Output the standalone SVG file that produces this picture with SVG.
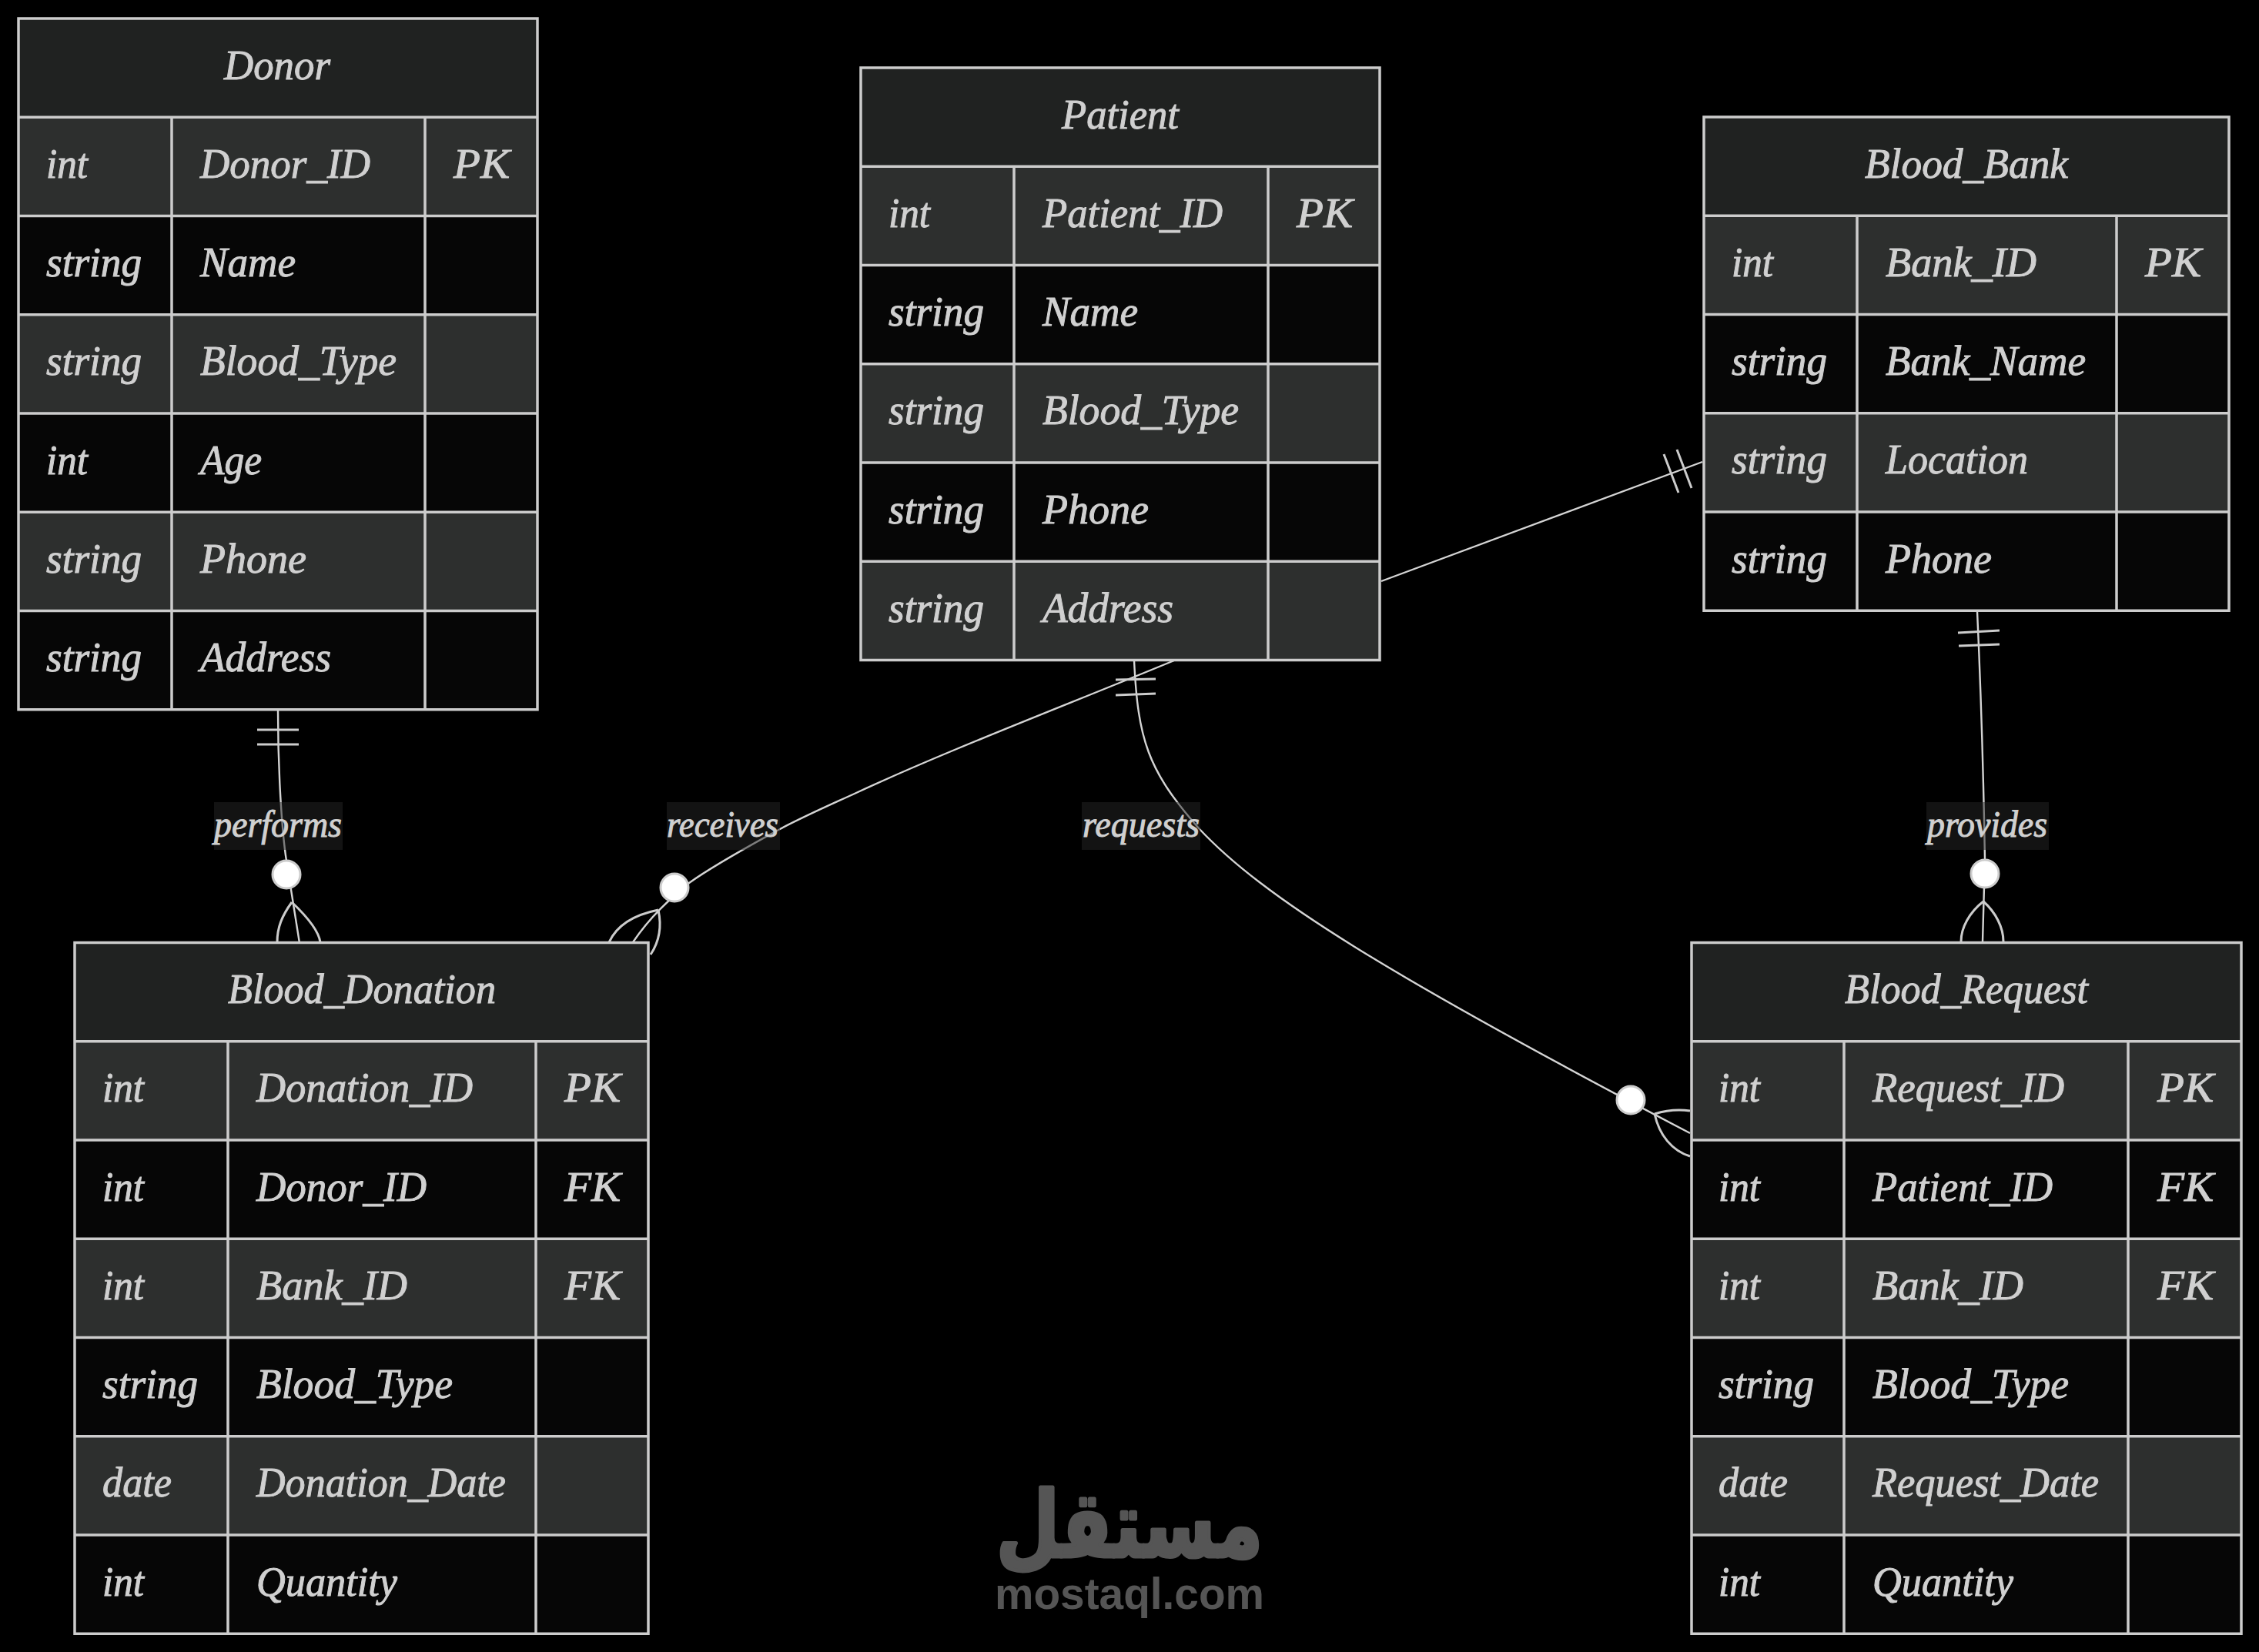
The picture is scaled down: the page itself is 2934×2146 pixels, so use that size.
<svg xmlns="http://www.w3.org/2000/svg" width="2934" height="2146" viewBox="0 0 2934 2146">
<style>
.bg{fill:#000}
.h{fill:#202221}.o{fill:#2d2f2e}.e{fill:#060606}
.g{fill:none;stroke:#ccc;stroke-width:3.5}
.t{font-family:"Liberation Serif",serif;font-style:italic;font-size:54px;fill:#d0d0d0;stroke:#d0d0d0;stroke-width:1}
.c{stroke:#d4d4d4;stroke-width:2.4;fill:none}
.k{stroke:#ccc;stroke-width:3;fill:none}
.d{fill:#fff;stroke:#ccc;stroke-width:3}
.lb{fill:#262626;fill-opacity:.5}
.l{font-size:48px}
.m{fill:#555;stroke:#555}
</style>
<rect class="bg" x="0" y="0" width="2934" height="2146"/>
<g id="watermark">
<text class="m" x="1294" y="2022" font-family="'DejaVu Sans',sans-serif" font-weight="700" font-size="118" stroke-width="5" stroke-linejoin="round" textLength="346" lengthAdjust="spacingAndGlyphs">مستقل</text>
<text class="m" x="1292" y="2090" font-family="'Liberation Sans',sans-serif" font-weight="700" font-size="58" stroke-width="0" textLength="350" lengthAdjust="spacingAndGlyphs">mostaql.com</text>
</g>
<g id="connectors">
<path class="c" d="M361,923 C361,1000 366,1080 372,1118 L389,1225"/>
<path class="k" d="M334,948H388M334,967H388"/>
<path class="k" d="M379,1172C366,1190 360,1205 360,1224M379,1172C398,1190 414,1210 416,1224"/>
<path class="c" d="M1525,858C1380,918 1230,975 1112,1030C1075,1047 1045,1060 1013,1077C975,1098 930,1122 895,1147C870,1168 845,1190 822,1224"/>
<path class="k" d="M855,1182C825,1188 802,1200 791,1224M855,1182C860,1205 855,1225 845,1240"/>
<path class="c" d="M1473,858C1478,960 1490,1000 1557,1076C1640,1165 1800,1265 2195,1472"/>
<path class="k" d="M1449,883L1501,882M1449,903L1501,901"/>
<path class="k" d="M2149,1447C2165,1442 2180,1441 2195,1443M2149,1447C2155,1475 2172,1495 2195,1502"/>
<path class="c" d="M1794,755L2211,600"/>
<path class="k" d="M2161,590L2180,640M2178,584L2197,634"/>
<path class="c" d="M2568,794C2572,880 2576,1000 2578,1116L2575,1223"/>
<path class="k" d="M2543,822L2597,819M2544,839L2597,837"/>
<path class="k" d="M2576,1171C2558,1185 2547,1205 2547,1223M2576,1171C2592,1185 2602,1205 2602,1223"/>
<circle class="d" cx="372" cy="1136" r="18"/>
<circle class="d" cx="876" cy="1153" r="18"/>
<circle class="d" cx="2118" cy="1429" r="18"/>
<circle class="d" cx="2578" cy="1135" r="18"/>
<rect class="lb" x="278" y="1042" width="167" height="62"/>
<rect class="lb" x="866" y="1042" width="147" height="62"/>
<rect class="lb" x="1405" y="1042" width="154" height="62"/>
<rect class="lb" x="2502" y="1042" width="159" height="62"/>
<text class="t l" x="278" y="1087" textLength="166" lengthAdjust="spacingAndGlyphs">performs</text>
<text class="t l" x="866" y="1087" textLength="145" lengthAdjust="spacingAndGlyphs">receives</text>
<text class="t l" x="1406" y="1087" textLength="152" lengthAdjust="spacingAndGlyphs">requests</text>
<text class="t l" x="2503" y="1087" textLength="156" lengthAdjust="spacingAndGlyphs">provides</text>
</g>
<g id="Donor">
<rect class="h" x="24" y="24" width="674" height="128.25"/>
<rect class="o" x="24" y="152.25" width="674" height="128.25"/>
<rect class="e" x="24" y="280.5" width="674" height="128.25"/>
<rect class="o" x="24" y="408.75" width="674" height="128.25"/>
<rect class="e" x="24" y="537" width="674" height="128.25"/>
<rect class="o" x="24" y="665.25" width="674" height="128.25"/>
<rect class="e" x="24" y="793.5" width="674" height="128.25"/>
<path class="g" d="M24,24H698V921.75H24ZM24,152.25H698M24,280.5H698M24,408.75H698M24,537H698M24,665.25H698M24,793.5H698M223,152.25V921.75M552,152.25V921.75"/>
<text class="t" x="291" y="102.5" textLength="138" lengthAdjust="spacingAndGlyphs">Donor</text>
<text class="t" x="60" y="230.75" textLength="54" lengthAdjust="spacingAndGlyphs">int</text>
<text class="t" x="260" y="230.75" textLength="221" lengthAdjust="spacingAndGlyphs">Donor_ID</text>
<text class="t" x="589" y="230.75" textLength="73" lengthAdjust="spacingAndGlyphs">PK</text>
<text class="t" x="60" y="359" textLength="124" lengthAdjust="spacingAndGlyphs">string</text>
<text class="t" x="260" y="359" textLength="124" lengthAdjust="spacingAndGlyphs">Name</text>
<text class="t" x="60" y="487.25" textLength="124" lengthAdjust="spacingAndGlyphs">string</text>
<text class="t" x="260" y="487.25" textLength="255" lengthAdjust="spacingAndGlyphs">Blood_Type</text>
<text class="t" x="60" y="615.5" textLength="54" lengthAdjust="spacingAndGlyphs">int</text>
<text class="t" x="260" y="615.5" textLength="80" lengthAdjust="spacingAndGlyphs">Age</text>
<text class="t" x="60" y="743.75" textLength="124" lengthAdjust="spacingAndGlyphs">string</text>
<text class="t" x="260" y="743.75" textLength="138" lengthAdjust="spacingAndGlyphs">Phone</text>
<text class="t" x="60" y="872" textLength="124" lengthAdjust="spacingAndGlyphs">string</text>
<text class="t" x="260" y="872" textLength="170" lengthAdjust="spacingAndGlyphs">Address</text>
</g>
<g id="Patient">
<rect class="h" x="1118" y="88" width="674" height="128.25"/>
<rect class="o" x="1118" y="216.25" width="674" height="128.25"/>
<rect class="e" x="1118" y="344.5" width="674" height="128.25"/>
<rect class="o" x="1118" y="472.75" width="674" height="128.25"/>
<rect class="e" x="1118" y="601" width="674" height="128.25"/>
<rect class="o" x="1118" y="729.25" width="674" height="128.25"/>
<path class="g" d="M1118,88H1792V857.5H1118ZM1118,216.25H1792M1118,344.5H1792M1118,472.75H1792M1118,601H1792M1118,729.25H1792M1317,216.25V857.5M1647,216.25V857.5"/>
<text class="t" x="1379" y="166.5" textLength="152" lengthAdjust="spacingAndGlyphs">Patient</text>
<text class="t" x="1154" y="294.75" textLength="54" lengthAdjust="spacingAndGlyphs">int</text>
<text class="t" x="1354" y="294.75" textLength="234" lengthAdjust="spacingAndGlyphs">Patient_ID</text>
<text class="t" x="1684" y="294.75" textLength="73" lengthAdjust="spacingAndGlyphs">PK</text>
<text class="t" x="1154" y="423" textLength="124" lengthAdjust="spacingAndGlyphs">string</text>
<text class="t" x="1354" y="423" textLength="124" lengthAdjust="spacingAndGlyphs">Name</text>
<text class="t" x="1154" y="551.25" textLength="124" lengthAdjust="spacingAndGlyphs">string</text>
<text class="t" x="1354" y="551.25" textLength="255" lengthAdjust="spacingAndGlyphs">Blood_Type</text>
<text class="t" x="1154" y="679.5" textLength="124" lengthAdjust="spacingAndGlyphs">string</text>
<text class="t" x="1354" y="679.5" textLength="138" lengthAdjust="spacingAndGlyphs">Phone</text>
<text class="t" x="1154" y="807.75" textLength="124" lengthAdjust="spacingAndGlyphs">string</text>
<text class="t" x="1354" y="807.75" textLength="170" lengthAdjust="spacingAndGlyphs">Address</text>
</g>
<g id="Blood_Bank">
<rect class="h" x="2213" y="152" width="682" height="128.25"/>
<rect class="o" x="2213" y="280.25" width="682" height="128.25"/>
<rect class="e" x="2213" y="408.5" width="682" height="128.25"/>
<rect class="o" x="2213" y="536.75" width="682" height="128.25"/>
<rect class="e" x="2213" y="665" width="682" height="128.25"/>
<path class="g" d="M2213,152H2895V793.25H2213ZM2213,280.25H2895M2213,408.5H2895M2213,536.75H2895M2213,665H2895M2412,280.25V793.25M2749,280.25V793.25"/>
<text class="t" x="2422" y="230.5" textLength="264" lengthAdjust="spacingAndGlyphs">Blood_Bank</text>
<text class="t" x="2249" y="358.75" textLength="54" lengthAdjust="spacingAndGlyphs">int</text>
<text class="t" x="2449" y="358.75" textLength="196" lengthAdjust="spacingAndGlyphs">Bank_ID</text>
<text class="t" x="2786" y="358.75" textLength="73" lengthAdjust="spacingAndGlyphs">PK</text>
<text class="t" x="2249" y="487" textLength="124" lengthAdjust="spacingAndGlyphs">string</text>
<text class="t" x="2449" y="487" textLength="260" lengthAdjust="spacingAndGlyphs">Bank_Name</text>
<text class="t" x="2249" y="615.25" textLength="124" lengthAdjust="spacingAndGlyphs">string</text>
<text class="t" x="2449" y="615.25" textLength="185" lengthAdjust="spacingAndGlyphs">Location</text>
<text class="t" x="2249" y="743.5" textLength="124" lengthAdjust="spacingAndGlyphs">string</text>
<text class="t" x="2449" y="743.5" textLength="138" lengthAdjust="spacingAndGlyphs">Phone</text>
</g>
<g id="Blood_Donation">
<rect class="h" x="97" y="1224.5" width="745" height="128.25"/>
<rect class="o" x="97" y="1352.75" width="745" height="128.25"/>
<rect class="e" x="97" y="1481" width="745" height="128.25"/>
<rect class="o" x="97" y="1609.25" width="745" height="128.25"/>
<rect class="e" x="97" y="1737.5" width="745" height="128.25"/>
<rect class="o" x="97" y="1865.75" width="745" height="128.25"/>
<rect class="e" x="97" y="1994" width="745" height="128.25"/>
<path class="g" d="M97,1224.5H842V2122.25H97ZM97,1352.75H842M97,1481H842M97,1609.25H842M97,1737.5H842M97,1865.75H842M97,1994H842M296,1352.75V2122.25M696,1352.75V2122.25"/>
<text class="t" x="296" y="1303" textLength="348" lengthAdjust="spacingAndGlyphs">Blood_Donation</text>
<text class="t" x="133" y="1431.25" textLength="54" lengthAdjust="spacingAndGlyphs">int</text>
<text class="t" x="333" y="1431.25" textLength="281" lengthAdjust="spacingAndGlyphs">Donation_ID</text>
<text class="t" x="733" y="1431.25" textLength="73" lengthAdjust="spacingAndGlyphs">PK</text>
<text class="t" x="133" y="1559.5" textLength="54" lengthAdjust="spacingAndGlyphs">int</text>
<text class="t" x="333" y="1559.5" textLength="221" lengthAdjust="spacingAndGlyphs">Donor_ID</text>
<text class="t" x="733" y="1559.5" textLength="73" lengthAdjust="spacingAndGlyphs">FK</text>
<text class="t" x="133" y="1687.75" textLength="54" lengthAdjust="spacingAndGlyphs">int</text>
<text class="t" x="333" y="1687.75" textLength="196" lengthAdjust="spacingAndGlyphs">Bank_ID</text>
<text class="t" x="733" y="1687.75" textLength="73" lengthAdjust="spacingAndGlyphs">FK</text>
<text class="t" x="133" y="1816" textLength="124" lengthAdjust="spacingAndGlyphs">string</text>
<text class="t" x="333" y="1816" textLength="255" lengthAdjust="spacingAndGlyphs">Blood_Type</text>
<text class="t" x="133" y="1944.25" textLength="90" lengthAdjust="spacingAndGlyphs">date</text>
<text class="t" x="333" y="1944.25" textLength="324" lengthAdjust="spacingAndGlyphs">Donation_Date</text>
<text class="t" x="133" y="2072.5" textLength="54" lengthAdjust="spacingAndGlyphs">int</text>
<text class="t" x="333" y="2072.5" textLength="183" lengthAdjust="spacingAndGlyphs">Quantity</text>
</g>
<g id="Blood_Request">
<rect class="h" x="2197" y="1224.5" width="714" height="128.25"/>
<rect class="o" x="2197" y="1352.75" width="714" height="128.25"/>
<rect class="e" x="2197" y="1481" width="714" height="128.25"/>
<rect class="o" x="2197" y="1609.25" width="714" height="128.25"/>
<rect class="e" x="2197" y="1737.5" width="714" height="128.25"/>
<rect class="o" x="2197" y="1865.75" width="714" height="128.25"/>
<rect class="e" x="2197" y="1994" width="714" height="128.25"/>
<path class="g" d="M2197,1224.5H2911V2122.25H2197ZM2197,1352.75H2911M2197,1481H2911M2197,1609.25H2911M2197,1737.5H2911M2197,1865.75H2911M2197,1994H2911M2395,1352.75V2122.25M2764,1352.75V2122.25"/>
<text class="t" x="2396" y="1303" textLength="316" lengthAdjust="spacingAndGlyphs">Blood_Request</text>
<text class="t" x="2232" y="1431.25" textLength="54" lengthAdjust="spacingAndGlyphs">int</text>
<text class="t" x="2432" y="1431.25" textLength="249" lengthAdjust="spacingAndGlyphs">Request_ID</text>
<text class="t" x="2802" y="1431.25" textLength="73" lengthAdjust="spacingAndGlyphs">PK</text>
<text class="t" x="2232" y="1559.5" textLength="54" lengthAdjust="spacingAndGlyphs">int</text>
<text class="t" x="2432" y="1559.5" textLength="234" lengthAdjust="spacingAndGlyphs">Patient_ID</text>
<text class="t" x="2802" y="1559.5" textLength="73" lengthAdjust="spacingAndGlyphs">FK</text>
<text class="t" x="2232" y="1687.75" textLength="54" lengthAdjust="spacingAndGlyphs">int</text>
<text class="t" x="2432" y="1687.75" textLength="196" lengthAdjust="spacingAndGlyphs">Bank_ID</text>
<text class="t" x="2802" y="1687.75" textLength="73" lengthAdjust="spacingAndGlyphs">FK</text>
<text class="t" x="2232" y="1816" textLength="124" lengthAdjust="spacingAndGlyphs">string</text>
<text class="t" x="2432" y="1816" textLength="255" lengthAdjust="spacingAndGlyphs">Blood_Type</text>
<text class="t" x="2232" y="1944.25" textLength="90" lengthAdjust="spacingAndGlyphs">date</text>
<text class="t" x="2432" y="1944.25" textLength="294" lengthAdjust="spacingAndGlyphs">Request_Date</text>
<text class="t" x="2232" y="2072.5" textLength="54" lengthAdjust="spacingAndGlyphs">int</text>
<text class="t" x="2432" y="2072.5" textLength="183" lengthAdjust="spacingAndGlyphs">Quantity</text>
</g>
</svg>
